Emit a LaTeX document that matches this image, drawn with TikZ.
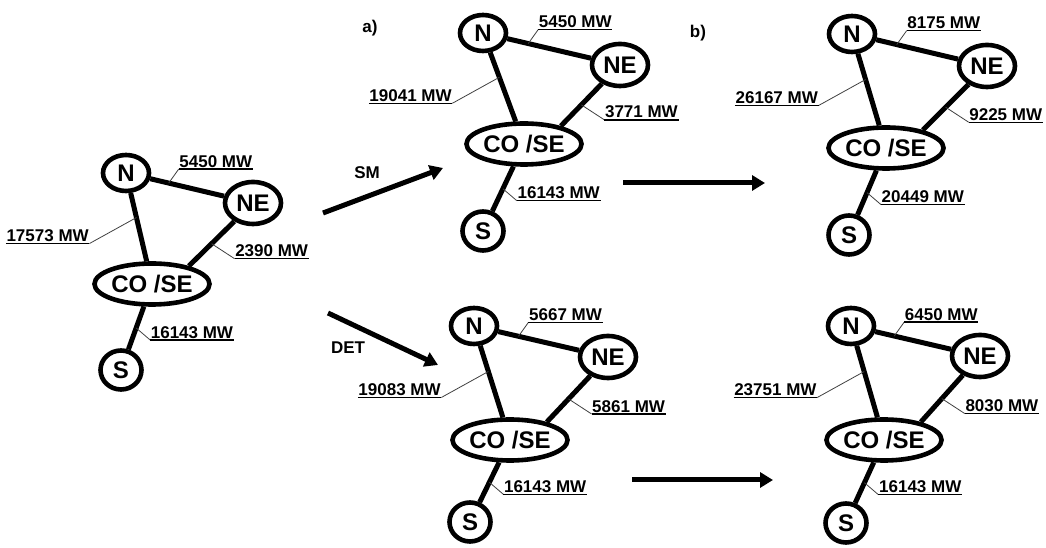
\documentclass[tikz,border=0pt]{standalone}
\usepackage{fontspec}
\setmainfont{Liberation Sans}
\usetikzlibrary{arrows.meta,positioning,calc,shapes.geometric}

\begin{document}
\begin{tikzpicture}[x=1pt, y=1pt,
  bus/.style   ={ellipse, draw, line width=4.6pt, inner sep=0pt, font=\fontsize{24}{24}\selectfont\bfseries},
  subN/.style  ={bus, minimum width=46pt, minimum height=36pt},
  subNE/.style ={bus, minimum width=56pt, minimum height=42pt},
  subCO/.style ={bus, minimum width=110pt, minimum height=41pt},
  subS/.style  ={bus, minimum width=41pt, minimum height=39pt},
  tie/.style   ={line width=5pt},
  lead/.style  ={line width=0.8pt, black!75},
  uline/.style ={line width=1.4pt},
  flow/.style  ={font=\fontsize{17}{17}\selectfont\bfseries, inner xsep=0.5pt, inner ysep=1.5pt},
  stage/.style ={line width=5pt, -{Triangle[length=13pt,width=15pt]}},
  tag/.style   ={font=\fontsize{17}{17}\selectfont\bfseries},
]
\useasboundingbox (0,0) rectangle (1046,548);

% initial state (left)
\node[subN]  (iN)  at (126,375) {N};
\node[subNE] (iNE) at (253,345) {NE};
\node[subCO] (iCO) at (152,264) {CO /SE};
\node[subS]  (iS)  at (121,178) {S};
% a) upper: SM
\node[subN]  (aN)  at (483,515) {N};
\node[subNE] (aNE) at (620,483) {NE};
\node[subCO] (aCO) at (524,404) {CO /SE};
\node[subS]  (aS)  at (483,317) {S};
% b) upper
\node[subN]  (bN)  at (852,514) {N};
\node[subNE] (bNE) at (987,482) {NE};
\node[subCO] (bCO) at (886,400) {CO /SE};
\node[subS]  (bS)  at (849,313) {S};
% a) lower: DET
\node[subN]  (cN)  at (474,222) {N};
\node[subNE] (cNE) at (608,191) {NE};
\node[subCO] (cCO) at (510,108) {CO /SE};
\node[subS]  (cS)  at (470,26) {S};
% b) lower
\node[subN]  (dN)  at (851,222) {N};
\node[subNE] (dNE) at (980,192) {NE};
\node[subCO] (dCO) at (884,108) {CO /SE};
\node[subS]  (dS)  at (846,25) {S};

% links, with the exchange on each one
\foreach \g/\fa/\fb/\fc/\fd in {i/5450/17573/2390/16143, a/5450/19041/3771/16143,
    b/8175/26167/9225/20449, c/5667/19083/5861/16143, d/6450/23751/8030/16143} {
  \draw[tie] (\g N)  -- coordinate[pos=0.25] (\g kA) (\g NE);
  \draw[tie] (\g N)  -- coordinate[pos=0.36] (\g kB) (\g CO);
  \draw[tie] (\g NE) -- coordinate[pos=0.5]  (\g kC) (\g CO.26);
  \draw[tie] (\g CO) -- coordinate[pos=0.5]  (\g kD) (\g S);
  \node[flow, anchor=south west] (\g fA) at ($(\g kA)+(10,14)$)   {\fa\ MW};
  \node[flow, anchor=south east] (\g fB) at ($(\g kB)+(-47,-26)$) {\fb\ MW};
  \node[flow, anchor=south west] (\g fC) at ($(\g kC)+(23,-15)$)  {\fc\ MW};
  \node[flow, anchor=south west] (\g fD) at ($(\g kD)+(14,-12)$)  {\fd\ MW};
  \draw[lead] (\g kA) -- (\g fA.south west);
  \draw[lead] (\g kB) -- (\g fB.south east);
  \draw[lead] (\g kC) -- (\g fC.south west);
  \draw[lead] (\g kD) -- (\g fD.south west);
  \foreach \f in {fA,fB,fC,fD}
    \draw[uline] (\g\f.south west) -- (\g\f.south east);
}

% step arrows
\coordinate (smTail)  at (323,335);
\coordinate (smHead)  at (443,380);
\coordinate (detTail) at (328,235);
\coordinate (detHead) at (438,183);
\coordinate (upTail)  at (623,365);
\coordinate (upHead)  at (765,365);
\coordinate (loTail)  at (632,68);
\coordinate (loHead)  at (773,68);
\draw[stage] (smTail) -- (smHead);
\draw[stage] (detTail) -- (detHead);
\draw[stage] (upTail) -- (upHead);
\draw[stage] (loTail) -- (loHead);

\node[tag] (smLbl)  at (367,375) {SM};
\node[tag] (detLbl) at (348,200) {DET};
\node[tag] (aLbl)   at (370,520) {a)};
\node[tag] (bLbl)   at (698,515) {b)};
\end{tikzpicture}
\end{document}
